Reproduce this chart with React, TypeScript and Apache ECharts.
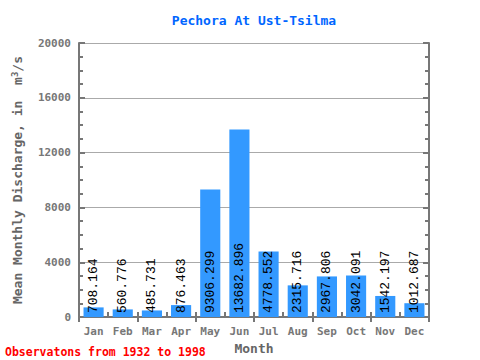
import React, { useEffect, useRef } from "react";
import * as echarts from "echarts";

const months = ["Jan", "Feb", "Mar", "Apr", "May", "Jun", "Jul", "Aug", "Sep", "Oct", "Nov", "Dec"];
const discharge = [708.164, 560.776, 485.731, 876.463, 9306.299, 13682.896, 4778.552, 2315.716, 2967.806, 3042.091, 1542.197, 1012.687];
const yMin = 0;
const yMax = 20000;
const yInterval = 4000;

const FONT = "DejaVu Sans Mono";
const LABEL_FONT = "Liberation Mono";
const AXIS_COLOR = "#777777";

export default function App() {
  const ref = useRef<HTMLDivElement>(null);
  useEffect(() => {
    if (!ref.current) return;
    const chart = echarts.init(ref.current, undefined, { renderer: "svg" });
    const catAxisBase = {
      type: "category",
      data: months,
      boundaryGap: true,
      axisLine: { show: true, lineStyle: { color: AXIS_COLOR, width: 2 } },
      axisTick: { show: true, inside: true, length: 5, alignWithLabel: false, lineStyle: { color: AXIS_COLOR, width: 2 } },
    };
    const valAxisBase = {
      type: "value",
      min: yMin,
      max: yMax,
      interval: yInterval,
      axisLine: { show: true, lineStyle: { color: AXIS_COLOR, width: 2 } },
      axisTick: { show: true, inside: true, length: 6, lineStyle: { color: AXIS_COLOR, width: 2 } },
      minorTick: { show: true, splitNumber: 4, length: 4, lineStyle: { color: AXIS_COLOR, width: 2 } },
    };
    chart.setOption({
      animation: false,
      backgroundColor: "#ffffff",
      title: {
        text: "Pechora At Ust-Tsilma",
        left: 249,
        textAlign: "center",
        top: 9,
        textStyle: { color: "#0066ff", fontFamily: FONT, fontWeight: "bold", fontSize: 13 },
      },
      graphic: [
        {
          type: "text",
          left: 5,
          top: 346,
          style: { text: "Observatons from 1932 to 1998", fill: "#ff0000", font: `bold 11.5px "${FONT}"` },
        },
      ],
      grid: { left: 79, right: 51, top: 43, bottom: 38 },
      xAxis: [
        {
          ...catAxisBase,
          position: "bottom",
          name: "Month",
          nameLocation: "middle",
          nameGap: 23,
          nameTextStyle: { color: "#666666", fontFamily: FONT, fontWeight: "bold", fontSize: 13 },
          axisLabel: { color: "#777777", fontFamily: FONT, fontWeight: "bold", fontSize: 11, margin: 9 },
        },
        {
          ...catAxisBase,
          position: "top",
          axisLabel: { show: false },
        },
      ],
      yAxis: [
        {
          ...valAxisBase,
          position: "left",
          name: "{a|Mean Monthly Discharge, in  m}{s|3}{a|/s}",
          nameLocation: "middle",
          nameGap: 55,
          nameTextStyle: {
            rich: {
              a: { color: "#666666", fontFamily: FONT, fontWeight: "bold", fontSize: 13 },
              s: { color: "#666666", fontFamily: FONT, fontWeight: "bold", fontSize: 9, verticalAlign: "top", lineHeight: 9, padding: [0, 0, 7, 0] },
            },
          },
          axisLabel: {
            color: "#777777",
            fontFamily: FONT,
            fontWeight: "bold",
            fontSize: 11,
            margin: 8,
            formatter: (v: number) => String(v),
          },
          splitLine: { show: true, lineStyle: { color: "#aaaaaa", width: 1 } },
        },
        {
          ...valAxisBase,
          position: "right",
          axisLabel: { show: false },
          splitLine: { show: false },
        },
      ],
      series: [
        {
          type: "bar",
          data: discharge,
          barWidth: "69%",
          itemStyle: { color: "#3399ff" },
          label: {
            show: true,
            position: "insideBottom",
            rotate: 90,
            align: "left",
            verticalAlign: "middle",
            distance: 4,
            color: "#000000",
            fontFamily: LABEL_FONT,
            fontSize: 13,
            formatter: (p: any) => Number(p.value).toFixed(3),
          },
        },
      ],
    });
    return () => chart.dispose();
  }, []);
  return <div ref={ref} style={{ width: 480, height: 360, position: "absolute", left: 0, top: 0 }} />;
}
